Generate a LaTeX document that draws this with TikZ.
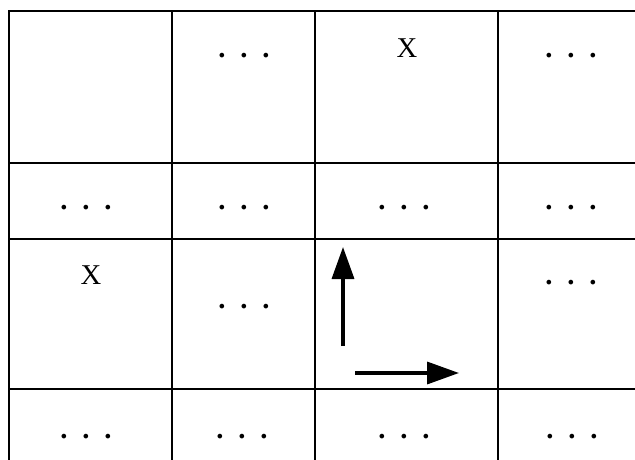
\documentclass[tikz,border=0pt]{standalone}
\usepackage{fontspec}
\setmainfont{Liberation Serif}
\usetikzlibrary{arrows.meta}
\newcommand{\mydots}{\bfseries .\kern11.1pt.\kern11.1pt.}
\tikzset{
  grid/.style={line width=1pt, black},
  cell/.style={anchor=base, inner sep=0pt, font=\fontsize{21.5}{24}\selectfont},
  dirarrow/.style={line width=2.6pt, -{Triangle[length=24pt, width=16.5pt]}}
}
\begin{document}
\begin{tikzpicture}[x=0.75pt, y=-0.75pt]
\useasboundingbox[fill=white] (0,0) rectangle (635,460);
% grid
\draw[grid] (9,480) -- (9,11) -- (660,11);
\draw[grid] (172,11) -- (172,480);
\draw[grid] (315,11) -- (315,480);
\draw[grid] (498,11) -- (498,480);
\draw[grid] (9,163) -- (660,163);
\draw[grid] (9,239) -- (660,239);
\draw[grid] (9,389) -- (660,389);
% row 1
\node[cell] (r1c2) at (244,57.5) {\mydots};
\node[cell] (r1c3) at (407,57.5) {X};
\node[cell] (r1c4) at (571,57.5) {\mydots};
% row 2
\node[cell] (r2c1) at (86,209) {\mydots};
\node[cell] (r2c2) at (244,209) {\mydots};
\node[cell] (r2c3) at (404,209) {\mydots};
\node[cell] (r2c4) at (571,209) {\mydots};
% row 3
\node[cell] (r3c1) at (91,284) {X};
\node[cell] (r3c2) at (244,308.5) {\mydots};
\node[cell] (r3c4) at (571,284.5) {\mydots};
% row 4
\node[cell] (r4c1) at (86,438) {\mydots};
\node[cell] (r4c2) at (242,438) {\mydots};
\node[cell] (r4c3) at (404,438) {\mydots};
\node[cell] (r4c4) at (572,438) {\mydots};
% arrows
\coordinate (vs) at (343,346);
\coordinate (vt) at (343,247);
\coordinate (hs) at (355,373);
\coordinate (ht) at (459,373);
\draw[dirarrow] (vs) -- (vt);
\draw[dirarrow] (hs) -- (ht);
\end{tikzpicture}
\end{document}
